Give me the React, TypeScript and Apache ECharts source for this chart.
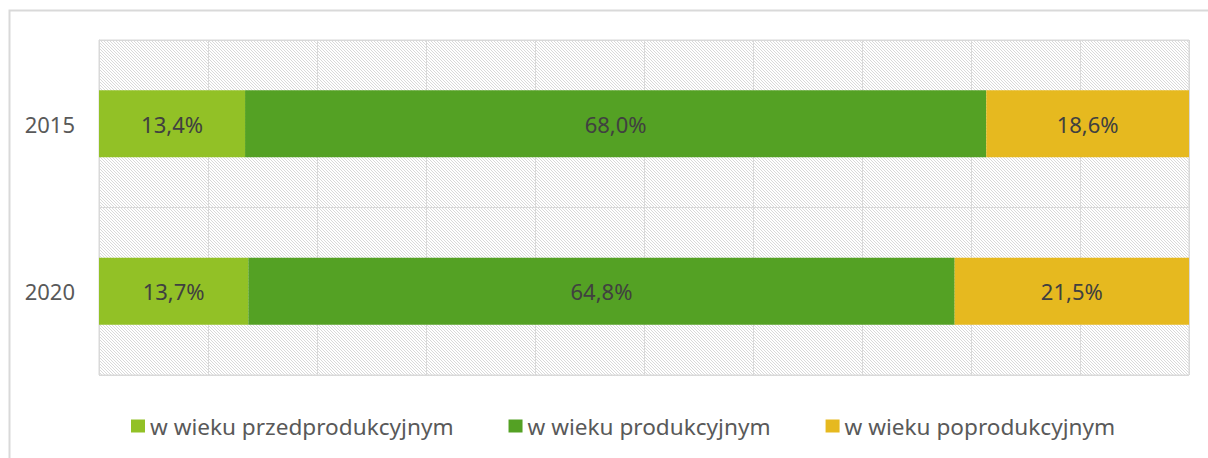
import React, { useEffect, useRef } from "react";
import * as echarts from "echarts";

const categories = ["2015", "2020"];
const seriesNames = ["w wieku przedprodukcyjnym", "w wieku produkcyjnym", "w wieku poprodukcyjnym"];
const preProductive = [13.4, 13.7];
const productive = [68.0, 64.8];
const postProductive = [18.6, 21.5];
const colors = ["#92C126", "#54A124", "#E6B91F"];

function makePattern(): string {
  const c = document.createElement("canvas");
  c.width = 6;
  c.height = 6;
  const ctx = c.getContext("2d")!;
  ctx.fillStyle = "#ffffff";
  ctx.fillRect(0, 0, 6, 6);
  ctx.fillStyle = "#d9d9d9";
  for (let i = 0; i < 6; i++) {
    ctx.fillRect(i, i, 1, 1);
    ctx.fillRect((i + 3) % 6, i, 1, 1);
  }
  return c.toDataURL();
}

export default function App() {
  const ref = useRef<HTMLDivElement>(null);
  useEffect(() => {
    if (!ref.current) return;
    const chart = echarts.init(ref.current, undefined, { renderer: "svg" });
    const pattern = { image: makePattern(), repeat: "repeat" } as any;
    const font = "Noto Sans";
    const mk = (name: string, data: number[], color: string) => ({
      name,
      type: "bar",
      stack: "total",
      data,
      barWidth: 67,
      itemStyle: { color },
      label: {
        show: true,
        position: "inside",
        color: "#404040",
        fontSize: 22,
        fontFamily: font,
        formatter: (p: any) => p.value.toFixed(1).replace(".", ",") + "%",
      },
    });
    chart.setOption({
      animation: false,
      backgroundColor: "#ffffff",
      graphic: [
        {
          type: "rect",
          shape: { x: 9.5, y: 10.5, width: 1220, height: 470 },
          style: { fill: "none", stroke: "#d9d9d9", lineWidth: 2 },
          z: -10,
        },
      ],
      grid: {
        left: 99,
        right: 19,
        top: 40,
        bottom: 83,
        show: true,
        backgroundColor: pattern,
        borderColor: "#d9d9d9",
        borderWidth: 1,
      },
      legend: {
        top: 409,
        left: 126,
        itemWidth: 14,
        itemHeight: 13,
        itemGap: 55,
        icon: "rect",
        textStyle: { color: "#595959", fontSize: 22.6, fontFamily: font, lineHeight: 24 },
        data: seriesNames,
      },
      xAxis: {
        type: "value",
        min: 0,
        max: 100,
        interval: 10,
        axisLabel: { show: false },
        axisLine: { show: false },
        axisTick: { show: false },
        splitLine: { show: true, lineStyle: { color: "#d9d9d9", width: 1 } },
      },
      yAxis: {
        type: "category",
        data: categories,
        inverse: true,
        axisLine: { show: true, lineStyle: { color: "#d9d9d9" } },
        axisTick: { show: false },
        splitLine: { show: true, lineStyle: { color: "#d9d9d9", width: 1 } },
        axisLabel: { color: "#595959", fontSize: 22, fontFamily: font, margin: 24 },
      },
      series: [
        mk(seriesNames[0], preProductive, colors[0]),
        mk(seriesNames[1], productive, colors[1]),
        mk(seriesNames[2], postProductive, colors[2]),
      ],
    });
    return () => chart.dispose();
  }, []);
  return (
    <div
      ref={ref}
      style={{ position: "absolute", left: 0, top: 0, width: 1208, height: 458 }}
    />
  );
}
